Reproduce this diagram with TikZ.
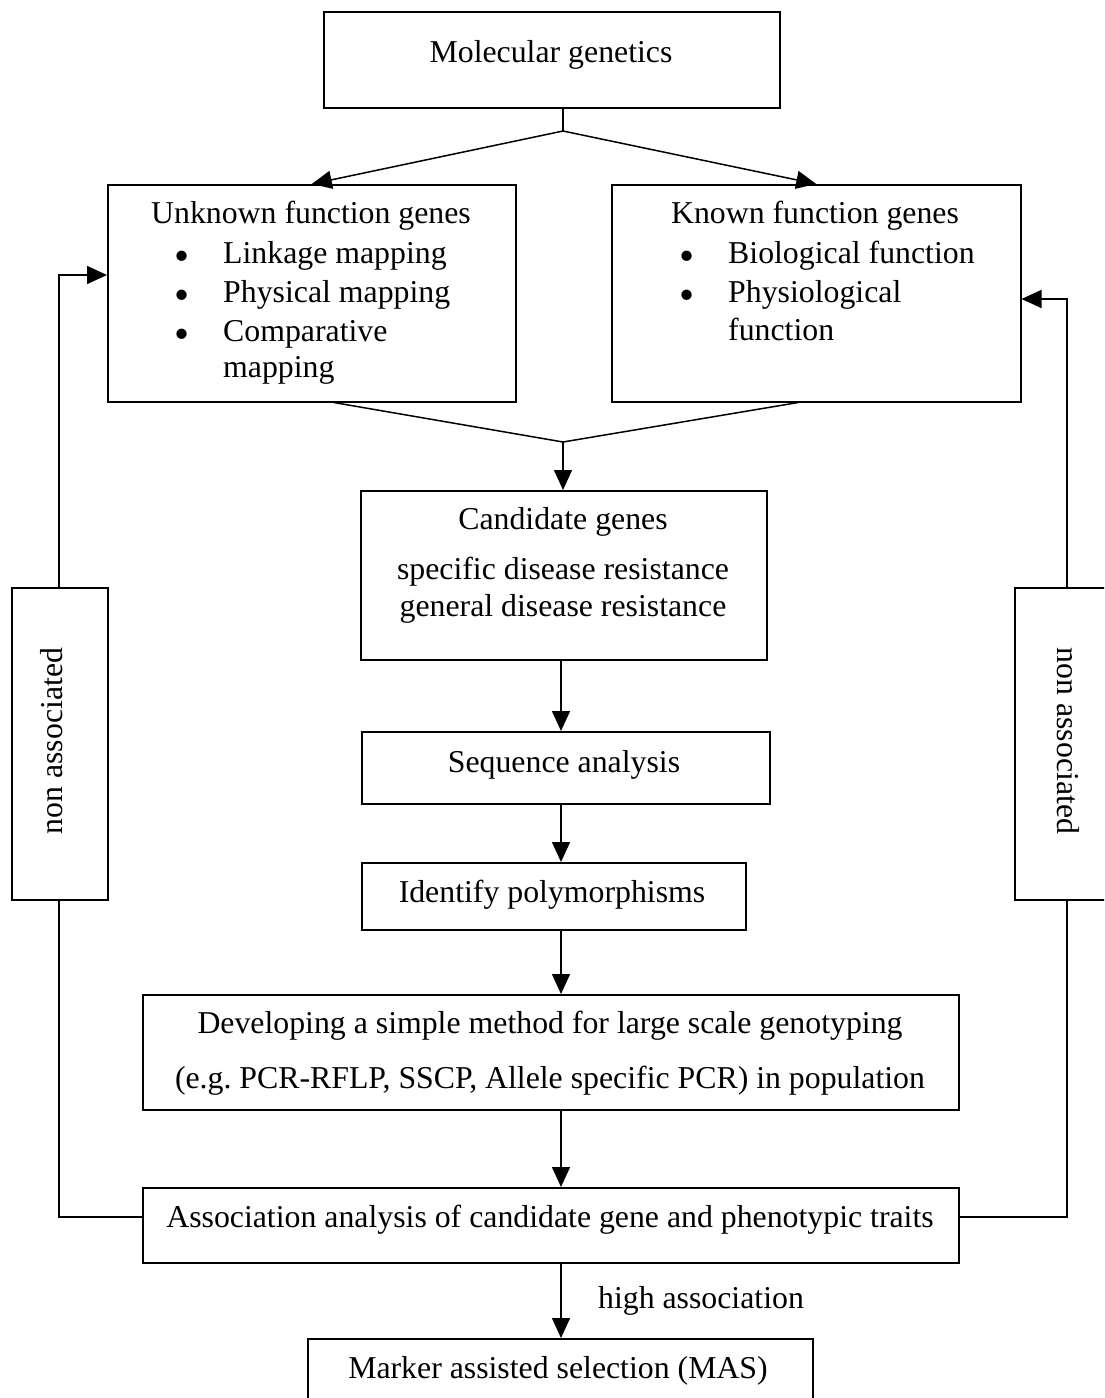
\documentclass[tikz,border=0pt]{standalone}
\usepackage{fontspec}
\setmainfont{Liberation Serif}
\usetikzlibrary{arrows.meta}
\begin{document}
\begin{tikzpicture}[x=1pt,y=-1pt]
    \tikzstyle{box}=[draw, line width=1.5pt, inner sep=0pt, anchor=north west]
    \tikzstyle{txt}=[font=\fontsize{31.8}{38}\selectfont, inner sep=0pt, anchor=base]
    \tikzstyle{item}=[txt, anchor=base west]
    \tikzstyle{dot}=[txt, font=\fontsize{43}{50}\selectfont]
    \tikzstyle{link}=[line width=1.5pt]
    \tikzstyle{arr}=[line width=1.5pt, -{Triangle[length=20pt,width=18pt]}]
    \useasboundingbox (0,0) rectangle (1104,1398);
    \clip (0,0) rectangle (1104,1398);
    % boxes
    \node[box, minimum width=456pt, minimum height=96pt]  (mol)   at (323,11)   {};
    \node[box, minimum width=408pt, minimum height=217pt] (unk)   at (107,184)  {};
    \node[box, minimum width=409pt, minimum height=217pt] (kno)   at (611,184)  {};
    \node[box, minimum width=406pt, minimum height=169pt] (cand)  at (360,490)  {};
    \node[box, minimum width=408pt, minimum height=72pt]  (seq)   at (361,731)  {};
    \node[box, minimum width=384pt, minimum height=67pt]  (ident) at (361,862)  {};
    \node[box, minimum width=816pt, minimum height=115pt] (dev)   at (142,994)  {};
    \node[box, minimum width=816pt, minimum height=75pt]  (assoc) at (142,1187) {};
    \node[box, minimum width=505pt, minimum height=80pt]  (mas)   at (307,1338) {};
    \node[box, minimum width=96pt,  minimum height=312pt] (lbox)  at (11,587)   {};
    \node[box, minimum width=106pt, minimum height=312pt] (rbox)  at (1014,587) {};
    % texts
    \node[txt] (molt) at (551,62) {Molecular genetics};
    \node[txt] (unkt) at (311,223) {Unknown function genes};
    \node[dot] (unkb1) at (182,270) {•};
    \node[dot] (unkb2) at (182,309) {•};
    \node[dot] (unkb3) at (182,348) {•};
    \node[item] (unki1) at (223,263) {Linkage mapping};
    \node[item] (unki2) at (223,302) {Physical mapping};
    \node[item] (unki3) at (223,341) {Comparative};
    \node[item] (unki4) at (223,377) {mapping};
    \node[txt] (knot) at (815,223) {Known function genes};
    \node[dot] (knob1) at (687,270) {•};
    \node[dot] (knob2) at (687,309) {•};
    \node[item] (knoi1) at (728,263) {Biological function};
    \node[item] (knoi2) at (728,302) {Physiological};
    \node[item] (knoi3) at (728,340) {function};
    \node[txt] (candt1) at (563,529) {Candidate genes};
    \node[txt] (candt2) at (563,579) {specific disease resistance};
    \node[txt] (candt3) at (563,616) {general disease resistance};
    \node[txt] (seqt) at (564,772) {Sequence analysis};
    \node[txt] (identt) at (552,902) {Identify polymorphisms};
    \node[txt] (devt1) at (550,1033) {Developing a simple method for large scale genotyping};
    \node[txt] (devt2) at (550,1088) {(e.g.\ PCR-RFLP, SSCP, Allele specific PCR) in population};
    \node[txt] (assoct) at (550,1227) {Association analysis of candidate gene and phenotypic traits};
    \node[txt] (high) at (701,1308) {high association};
    \node[txt] (mast) at (558,1378) {Marker assisted selection (MAS)};
    \node[txt, rotate=90] (lboxt) at (62,741) {non associated};
    \node[txt, rotate=-90] (rboxt) at (1057,741) {non associated};
    % connectors
    \coordinate (split) at (563,131);
    \coordinate (join)  at (563,442);
    \coordinate (axis)  at (561,0);
    \draw[link] (mol.south -| split) -- (split);
    \draw[arr] (split) -- (unk.north);
    \draw[arr] (split) -- (kno.north);
    \draw[link] ([xshift=22pt]unk.south) -- (join);
    \draw[link] ([xshift=-18pt]kno.south) -- (join);
    \draw[arr] (join) -- (cand.north -| join);
    \draw[arr] (cand.south -| axis) -- (seq.north -| axis);
    \draw[arr] (seq.south -| axis) -- (ident.north -| axis);
    \draw[arr] (ident.south -| axis) -- (dev.north -| axis);
    \draw[arr] (dev.south -| axis) -- (assoc.north -| axis);
    \draw[arr] (assoc.south -| axis) -- (mas.north -| axis);
    % feedback loops
    \coordinate (lfoot) at (59,1217);
    \coordinate (ltop)  at (59,275);
    \coordinate (rfoot) at (1067,1217);
    \coordinate (rtop)  at (1067,299);
    \draw[link] (assoc.west |- lfoot) -- (lfoot) -- (lbox.south -| lfoot);
    \draw[arr] (lbox.north -| ltop) -- (ltop) -- (unk.west |- ltop);
    \draw[link] (assoc.east |- rfoot) -- (rfoot) -- (rbox.south -| rfoot);
    \draw[arr] (rbox.north -| rtop) -- (rtop) -- (kno.east |- rtop);
\end{tikzpicture}
\end{document}
